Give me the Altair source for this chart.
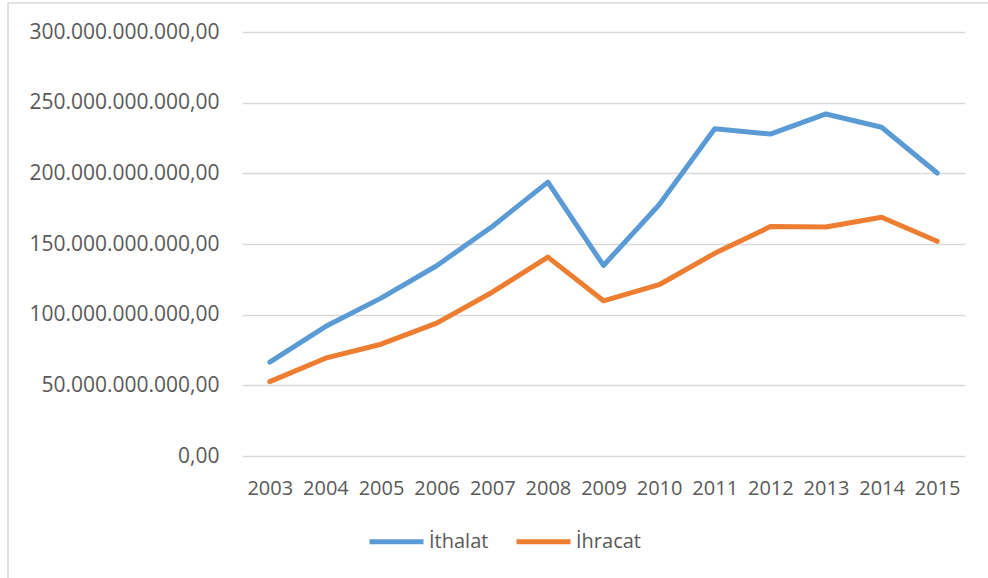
import altair as alt
import pandas as pd

years = [str(y) for y in range(2003, 2016)]
ithalat = [66.4e9, 91.6e9, 111.7e9, 134.6e9, 162.4e9, 193.8e9, 134.8e9,
           177.8e9, 231.6e9, 227.8e9, 242.0e9, 232.6e9, 200.2e9]
ihracat = [52.6e9, 69.2e9, 79.1e9, 94.0e9, 115.9e9, 140.7e9, 109.8e9,
           121.2e9, 143.4e9, 162.3e9, 162.0e9, 168.9e9, 151.9e9]
series = ["İthalat", "İhracat"]
colors = ["#5B9BD5", "#ED7D31"]
y_ticks = [0, 50e9, 100e9, 150e9, 200e9, 250e9, 300e9]

rows = []
for name, vals in zip(series, [ithalat, ihracat]):
    for yr, v in zip(years, vals):
        rows.append({"Yıl": yr, "Seri": name, "Değer": v})
df = pd.DataFrame(rows)

FONT = "Open Sans"
TEXT = "#595959"
GRID = "#d9d9d9"

# outer frame of the chart object (outline only)
frame = alt.Chart(pd.DataFrame({"k": [0]})).mark_rect(
    filled=False, stroke=GRID, strokeWidth=1.5
).encode(
    x=alt.value(-234), x2=alt.value(780),
    y=alt.value(-29), y2=alt.value(600),
)

lines = alt.Chart(df).mark_line(
    strokeWidth=5, strokeCap="round", strokeJoin="round"
).encode(
    x=alt.X("Yıl:O", sort=years,
            scale=alt.Scale(type="point", padding=0.5),
            axis=alt.Axis(title=None, labelAngle=0, domain=False, ticks=False,
                          grid=False, labelPadding=22)),
    y=alt.Y("Değer:Q",
            scale=alt.Scale(domain=[0, 300e9], nice=False),
            axis=alt.Axis(title=None, values=y_ticks, domain=False, ticks=False,
                          gridColor=GRID, gridWidth=1.5, labelPadding=23,
                          labelLimit=400, labelFontSize=21,
                          labelExpr="datum.value == 0 ? '0,00' : format(datum.value/1e9, 'd') + '.000.000.000,00'")),
    color=alt.Color("Seri:N",
                    scale=alt.Scale(domain=series, range=colors),
                    legend=alt.Legend(title=None, orient="none", direction="horizontal",
                                      legendX=125, legendY=480,
                                      symbolType="stroke", symbolSize=2916,
                                      symbolStrokeWidth=5, columnPadding=17,
                                      labelFontSize=20, labelColor=TEXT, labelFont=FONT,
                                      labelOffset=3, padding=0)),
    order=alt.Order("Yıl:O"),
    detail="Seri:N",
)

chart = alt.layer(frame, lines).properties(
    width=723, height=424,
    padding={"left": 242, "top": 32, "right": 23, "bottom": 122},
    autosize=alt.AutoSizeParams(type="none"),
    background="white",
).configure_view(
    stroke=None
).configure_axis(
    labelFont=FONT, labelFontSize=20, labelColor=TEXT,
)

chart.save("out.html", embed_options={"renderer": "svg", "actions": False})
